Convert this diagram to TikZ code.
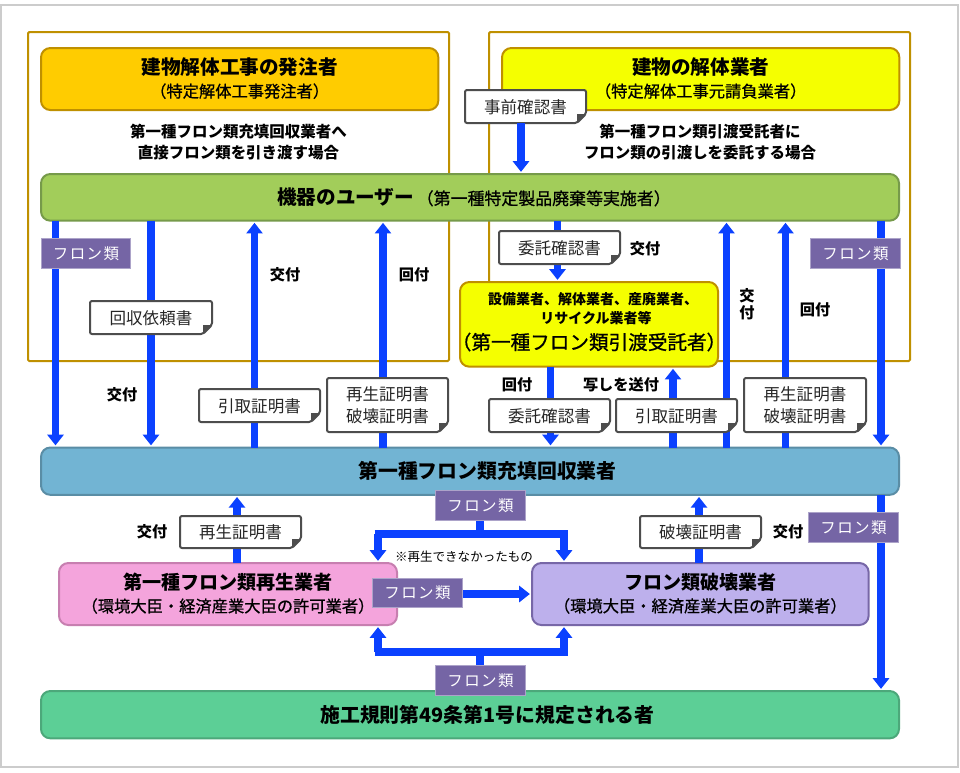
\documentclass[tikz,border=0pt]{standalone}
\usepackage{fontspec}
\setmainfont{Noto Sans CJK JP}
\newfontfamily\tagfont[LetterSpace=9]{Noto Sans CJK JP}
\newfontfamily\medfont[FakeBold=0.8]{Noto Sans CJK JP}
\usetikzlibrary{arrows.meta,calc}
\definecolor{flowblue}{HTML}{0B41FF}
\definecolor{gold}{HTML}{BF9000}
\definecolor{tagpurple}{HTML}{7565A5}
\definecolor{docedge}{HTML}{4D4D4D}
\newcommand{\ttlfont}{\bfseries\fontsize{14.7pt}{18pt}\selectfont}
\newcommand{\subfont}{\medfont\fontsize{12.2pt}{16pt}\selectfont}
\tikzset{
  x=0.75pt,y=-0.75pt,
  every node/.style={inner sep=0pt,outer sep=0pt},
  frame/.style={draw=gold,line width=1.5pt,rounded corners=1pt},
  pill/.style={rounded corners=7pt,line width=1.5pt,text=black,align=center,anchor=north west},
  flow/.style={draw=flowblue,line width=5.4pt,-{Triangle[width=12pt,length=8pt]},shorten >=1.6pt},
  flowthin/.style={draw=flowblue,line width=5.4pt},
  tagbox/.style={fill=tagpurple,draw=tagpurple!60!white,line width=.75pt,minimum width=67pt,minimum height=22pt,text=white,font=\tagfont\fontsize{11.6pt}{14pt}\selectfont},
  doclabel/.style={text=black!85,align=center,font=\fontsize{12.4pt}{16.5pt}\selectfont},
  act/.style={align=center,font=\bfseries\fontsize{11.4pt}{13pt}\selectfont},
  capline/.style={align=center,font=\bfseries\fontsize{11.6pt}{16pt}\selectfont},
}
\newcommand{\docnode}[6]{%
  \coordinate (#1-a) at (#2,#3);
  \coordinate (#1-b) at (#4,#5);
  \draw[draw=docedge,fill=white,line width=1.5pt,rounded corners=1.5pt]
    (#1-a) -- (#1-a -| #1-b) -- ($(#1-b)+(0,-9)$) -- ($(#1-b)+(-9,0)$) -- (#1-a |- #1-b) -- cycle;
  \fill[docedge] ($(#1-b)+(0,-9)$) -- ($(#1-b)+(-9,-9)$) -- ($(#1-b)+(-9,0)$) -- cycle;
  \node[doclabel] (#1) at ($($(#1-a)!.5!(#1-b)$)+(0,0.7)$) {#6};
}
\begin{document}
\begin{tikzpicture}
\useasboundingbox (0,0) rectangle (960,772);
\fill[white] (0,0) rectangle (960,772);
\draw[draw=black!20,line width=1.6pt] (1,5) rectangle (958,767);

% frames
\draw[frame] (28,32) rectangle (449,361);
\draw[frame] (489,32) rectangle (910,361);

% main boxes
\node[pill,draw=gold,fill={rgb,255:red,255;green,204;blue,0},minimum width=298pt,minimum height=46.5pt] (owner) at (41,48) {};
\node at ($(owner.center)+(0,1)$) {\begin{tabular}{@{}c@{}}{\ttlfont 建物解体工事の発注者}\\[3pt]{\subfont （特定解体工事発注者）}\end{tabular}};
\node[pill,draw=gold,fill={rgb,255:red,245;green,255;blue,0},minimum width=298pt,minimum height=46.5pt] (demo) at (502,48) {};
\node at ($(demo.center)+(0,1)$) {\begin{tabular}{@{}c@{}}{\ttlfont 建物の解体業者}\\[3pt]{\subfont （特定解体工事元請負業者）}\end{tabular}};
\node[capline] (capL) at (238.5,142) {第一種フロン類充填回収業者へ\\直接フロン類を引き渡す場合};
\node[capline] (capR) at (700,142) {第一種フロン類引渡受託者に\\フロン類の引渡しを委託する場合};

\node[pill,draw={rgb,255:red,118;green,154;blue,74},fill={rgb,255:red,162;green,205;blue,90},minimum width=643.5pt,minimum height=35pt] (user) at (41,174) {};
\node[pill,draw={rgb,255:red,90;green,141;blue,165},fill={rgb,255:red,114;green,180;blue,211},minimum width=643.5pt,minimum height=35.5pt] (rec) at (41,447.5) {};
\node[pill,draw={rgb,255:red,199;green,127;blue,176},fill={rgb,255:red,244;green,164;blue,220},minimum width=253.5pt,minimum height=46.5pt] (pink) at (59,563) {};
\node[pill,draw={rgb,255:red,119;green,103;blue,167},fill={rgb,255:red,189;green,176;blue,236},minimum width=252.5pt,minimum height=46.5pt] (purple) at (532,563) {};
\node[pill,draw={rgb,255:red,76;green,168;blue,122},fill={rgb,255:red,92;green,207;blue,150},minimum width=643.5pt,minimum height=35.5pt] (law) at (41,691) {};

% named junctions
\coordinate (jt) at (480,534);
\coordinate (jtl) at (378,534);
\coordinate (jtr) at (564,534);
\coordinate (jb) at (480,652);
\coordinate (jbl) at (378,652);
\coordinate (jbr) at (564,652);

% vertical flows, left side
\draw[flow] (user.south -| 55.5,0) -- (rec.north -| 55.5,0);
\draw[flow] (user.south -| 151,0) -- (rec.north -| 151,0);
\draw[flow] (rec.north -| 254.5,0) -- (user.south -| 254.5,0);
\draw[flow] (rec.north -| 383,0) -- (user.south -| 383,0);
% right side
\draw[flow] (rec.north -| 726.5,0) -- (user.south -| 726.5,0);
\draw[flow] (rec.north -| 785.5,0) -- (user.south -| 785.5,0);
\draw[flow] (user.south -| 881,0) -- (rec.north -| 881,0);
\draw[flow] (rec.south -| 881,0) -- (law.north -| 881,0);
\draw[flow] (pink.north -| 237,0) -- (rec.south -| 237,0);
\draw[flow] (purple.north -| 699,0) -- (rec.south -| 699,0);

% consignee box
\node[pill,draw=gold,fill={rgb,255:red,245;green,255;blue,0},minimum width=193.5pt,minimum height=63.5pt] (cons) at (460,282) {};
\node at ($(cons.center)+(0,-1)$) {\begin{tabular}{@{}c@{}}{\bfseries\fontsize{10.5pt}{14.5pt}\selectfont \hspace*{6pt}設備業者、解体業者、産廃業者、}\\[2pt]{\bfseries\fontsize{10.5pt}{14.5pt}\selectfont \hspace*{10.5pt}リサイクル業者等}\\[3pt]{\medfont\fontsize{14.7pt}{18pt}\selectfont （第一種フロン類引渡受託者）}\end{tabular}};

\draw[flow] (user.south -| 557.5,0) -- (cons.north -| 557.5,0);
\draw[flow] (cons.south -| 550.5,0) -- (rec.north -| 550.5,0);
\draw[flow] (rec.north -| 673,0) -- (cons.south -| 673,0);

% box captions
\node at ($(rec.center)+(17.5,0)$) {\bfseries\fontsize{14.9pt}{18pt}\selectfont 第一種フロン類充填回収業者};
\node at ($(user.center)+(4,0)$) {{\ttlfont 機器のユーザー}\hspace{2pt}{\medfont\fontsize{12.7pt}{16pt}\selectfont （第一種特定製品廃棄等実施者）}};
\node at ($(law.center)+(17.5,0)$) {\bfseries\fontsize{14.9pt}{18pt}\selectfont 施工規則第49条第1号に規定される者};
\node at ($(pink.center)+(0,1)$) {\begin{tabular}{@{}c@{}}{\bfseries\fontsize{14.3pt}{18pt}\selectfont 第一種フロン類再生業者}\\[3pt]{\subfont （環境大臣・経済産業大臣の許可業者）}\end{tabular}};
\node at ($(purple.center)+(0,1)$) {\begin{tabular}{@{}c@{}}{\bfseries\fontsize{14.3pt}{18pt}\selectfont フロン類破壊業者}\\[3pt]{\subfont （環境大臣・経済産業大臣の許可業者）}\end{tabular}};

% documents
\docnode{d1}{465}{90}{586}{123}{事前確認書}
\draw[flow] (d1-b -| 521,0) -- (user.north -| 521,0);
\docnode{d2}{499}{231}{620}{264}{委託確認書}
\docnode{d3}{90}{301}{212}{334}{回収依頼書}
\docnode{d4}{199}{389}{320}{422}{引取証明書}
\docnode{d5}{327}{378}{448}{432}{再生証明書\\破壊証明書}
\docnode{d6}{489}{399}{610}{432}{委託確認書}
\docnode{d7}{616}{399}{737}{432}{引取証明書}
\docnode{d8}{744}{378}{866}{432}{再生証明書\\破壊証明書}
\docnode{d9}{180}{516}{301}{548}{再生証明書}
\docnode{d10}{640}{516}{761}{548}{破壊証明書}

% fluorocarbon distribution
\node[tagbox] (tagT) at (480.5,505.5) {};
\node[tagbox] (tagB) at (480.5,680.5) {};
\node[tagbox] (tagM) at (417.5,593) {};
\draw[flowthin] (tagT.south -| jt) -- (jt);
\draw[flowthin] ($(jtl)+(-3.5,0)$) -- ($(jtr)+(3.5,0)$);
\draw[flow] (jtl) -- (pink.north -| jtl);
\draw[flow] (jtr) -- (purple.north -| jtr);
\draw[flowthin] (tagB.north -| jb) -- (jb);
\draw[flowthin] ($(jbl)+(-3.5,0)$) -- ($(jbr)+(3.5,0)$);
\draw[flow] (jbl) -- (pink.south -| jbl);
\draw[flow] (jbr) -- (purple.south -| jbr);
\draw[flow] (tagM.east |- purple.west) -- (purple.west);

% tags
\node[tagbox] at (tagT) {フロン類};
\node[tagbox] at (tagB) {フロン類};
\node[tagbox] at (tagM) {フロン類};
\node[tagbox] (tag1) at (86,253.5) {フロン類};
\node[tagbox] (tag2) at (855.5,253.5) {フロン類};
\node[tagbox] (tag3) at (853.5,527.5) {フロン類};

% action labels
\node[act] (a1) at (285,274.5) {交付};
\node[act] (a2) at (414,274.5) {回付};
\node[act] (a3) at (122,394.5) {交付};
\node[act] (a4) at (645,248.5) {交付};
\node[act] (a5) at (517,384.5) {回付};
\node[act] (a6) at (621,384.5) {写しを送付};
\node[act] (a7) at (747,304) {交\\付};
\node[act] (a8) at (815,309.5) {回付};
\node[act] (a9) at (152,531.5) {交付};
\node[act] (a10) at (788,531.5) {交付};
\node[font=\fontsize{9.4pt}{12pt}\selectfont] (note) at (464,557) {※再生できなかったもの};
\end{tikzpicture}
\end{document}
